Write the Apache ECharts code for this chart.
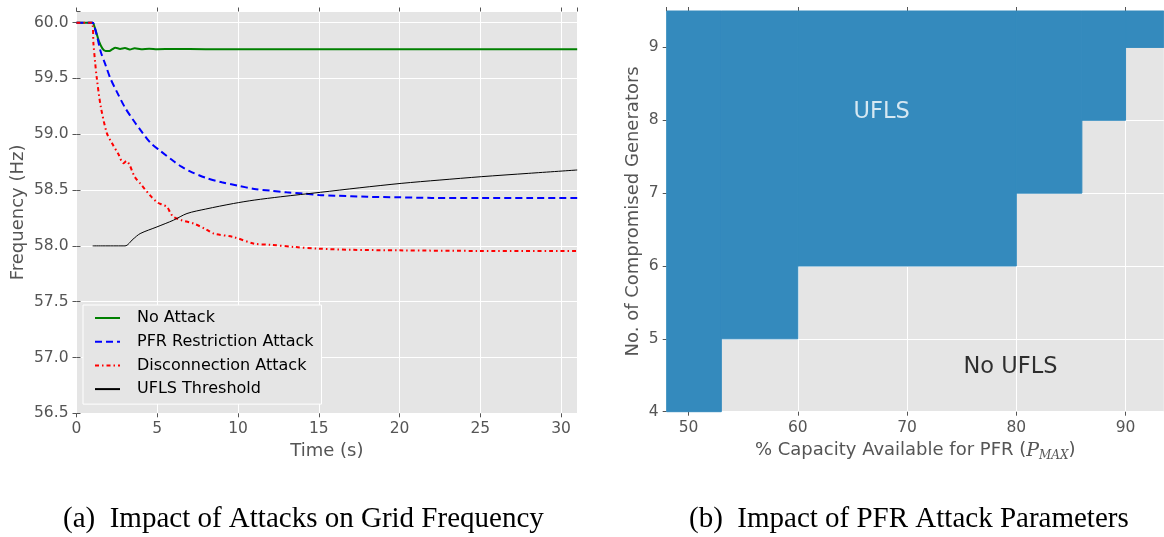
<!DOCTYPE html>
<html><head><meta charset="utf-8">
<script src="https://cdn.jsdelivr.net/npm/echarts@6/dist/echarts.min.js"></script>
<style>html,body{margin:0;padding:0;background:#fff}#c{width:1164px;height:537px}</style>
</head><body><div id="c"></div>
<script>
// ---------- Panel (a): frequency traces ----------
const seriesNames = ['No Attack', 'PFR Restriction Attack', 'Disconnection Attack', 'UFLS Threshold'];

const tNoAttack = [0, 1.0, 1.1, 1.25, 1.4, 1.6, 1.8, 2.0, 2.2, 2.4, 2.7, 3.0, 3.3, 3.6, 4.0, 4.5, 5, 6, 8, 10, 15, 20, 25, 31];
const fNoAttack = [60.0, 60.0, 59.97, 59.90, 59.83, 59.77, 59.745, 59.745, 59.76, 59.775, 59.765, 59.772, 59.76, 59.77, 59.762, 59.766, 59.762, 59.764, 59.762, 59.762, 59.762, 59.762, 59.762, 59.762];

const tPfr = [0, 1.0, 1.1, 1.3, 1.5, 1.8, 2.1, 2.5, 3, 3.5, 4, 4.6, 5.2, 6, 6.5, 7, 8, 9, 10, 11, 12, 13, 14, 15, 16, 18, 20, 22, 25, 28, 31];
const fPfr = [60, 60, 59.97, 59.86, 59.74, 59.62, 59.50, 59.38, 59.24, 59.13, 59.03, 58.92, 58.85, 58.76, 58.71, 58.67, 58.61, 58.57, 58.54, 58.51, 58.495, 58.48, 58.47, 58.455, 58.45, 58.44, 58.435, 58.43, 58.43, 58.43, 58.43];

const tDisc = [0, 0.95, 1.05, 1.15, 1.25, 1.5, 1.88, 2.2, 2.6, 2.9, 3.1, 3.3, 3.6, 4.0, 4.57, 5.0, 5.3, 5.6, 5.8, 6.0, 6.5, 7.25, 8.0, 8.5, 9.7, 11, 12, 13.5, 15, 17, 20, 25, 31];
const fDisc = [60, 60, 59.81, 59.65, 59.51, 59.25, 59.01, 58.92, 58.82, 58.74, 58.76, 58.72, 58.62, 58.55, 58.45, 58.39, 58.37, 58.35, 58.30, 58.26, 58.23, 58.20, 58.15, 58.11, 58.08, 58.02, 58.01, 57.99, 57.975, 57.965, 57.96, 57.955, 57.955];

const tUfls = [1, 3, 3.5, 3.94, 4.98, 6, 6.84, 8, 9.73, 11, 12.64, 15.1, 17.5, 20.1, 22.5, 25.06, 28, 31];
const fUfls = [58.0, 58.0, 58.06, 58.11, 58.17, 58.23, 58.29, 58.33, 58.38, 58.41, 58.44, 58.48, 58.52, 58.56, 58.59, 58.62, 58.65, 58.68];

// ---------- Panel (b): UFLS region ----------
const capEdges = [48, 53, 60, 80, 86, 90, 93.5];   // % capacity band edges
const minGenUFLS = [4, 5, 6, 7, 8, 9];              // lowest no. of generators causing UFLS in each band
const genTop = 9.5;
const annotTexts = ['UFLS', 'No UFLS'];
const annotX = [67.67, 79.47];
const annotY = [8.106, 4.608];

const captions = ['(a)  Impact of Attacks on Grid Frequency', '(b)  Impact of PFR Attack Parameters'];

const zip = (a, b) => a.map((v, i) => [v, b[i]]);
const bands = minGenUFLS.map((g, i) => [capEdges[i], capEdges[i + 1], g]);

const tickFont = {color: '#555', fontSize: 15.5, fontFamily: 'DejaVu Sans'};
const nameFont = {color: '#555', fontSize: 18, fontFamily: 'DejaVu Sans'};
const tickStyle = {show: true, length: 4, inside: false, lineStyle: {color: '#555', width: 1}};
const split = {show: true, lineStyle: {color: '#fff', width: 1}};

const chart = echarts.init(document.getElementById('c'), null, {renderer: 'canvas'});
chart.setOption({
  animation: false,
  backgroundColor: '#fff',
  grid: [
    {left: 76.5, top: 11.5, width: 500.7, height: 401.8, show: true, backgroundColor: '#E5E5E5', borderWidth: 0},
    {left: 666.7, top: 11, width: 497.1, height: 400.7, show: true, backgroundColor: '#E5E5E5', borderWidth: 0}
  ],
  xAxis: [
    {type: 'value', gridIndex: 0, min: 0, max: 31, interval: 5, name: 'Time (s)', nameLocation: 'middle', nameGap: 28,
     nameTextStyle: nameFont, axisLine: {show: false}, axisTick: tickStyle, splitLine: split,
     axisLabel: Object.assign({margin: 8, showMaxLabel: false}, tickFont)},
    {type: 'value', gridIndex: 0, position: 'top', min: 0, max: 31, interval: 5, axisLine: {show: false},
     axisTick: tickStyle, splitLine: {show: false}, axisLabel: {show: false}},
    {type: 'value', gridIndex: 1, min: 48, max: 93.5, splitNumber: 5,
     name: '{n|% Capacity Available for PFR (}{p|P}{s|MAX}{n|)}', nameLocation: 'middle', nameGap: 28,
     nameTextStyle: {rich: {
       n: {color: '#555', fontSize: 18, fontFamily: 'DejaVu Sans'},
       p: {color: '#555', fontSize: 19, fontFamily: 'DejaVu Serif', fontStyle: 'italic'},
       s: {color: '#555', fontSize: 12, fontFamily: 'DejaVu Serif', fontStyle: 'italic', verticalAlign: 'bottom', padding: [10, 0, 0, 0]}
     }},
     axisLine: {show: false}, axisTick: tickStyle, splitLine: split,
     axisLabel: Object.assign({margin: 8, showMinLabel: false, showMaxLabel: false}, tickFont)},
    {type: 'value', gridIndex: 1, position: 'top', min: 48, max: 93.5, splitNumber: 5, axisLine: {show: false},
     axisTick: tickStyle, splitLine: {show: false}, axisLabel: {show: false}}
  ],
  yAxis: [
    {type: 'value', gridIndex: 0, min: 56.5, max: 60.1, interval: 0.5, name: 'Frequency (Hz)', nameLocation: 'middle', nameGap: 49,
     nameTextStyle: nameFont, axisLine: {show: false}, axisTick: tickStyle, splitLine: split,
     axisLabel: Object.assign({margin: 8, showMaxLabel: false, formatter: v => v.toFixed(1)}, tickFont)},
    {type: 'value', gridIndex: 0, position: 'right', min: 56.5, max: 60.1, interval: 0.5, axisLine: {show: false},
     axisTick: tickStyle, splitLine: {show: false}, axisLabel: {show: false}},
    {type: 'value', gridIndex: 1, min: 4, max: genTop, interval: 1, name: 'No. of Compromised Generators', nameLocation: 'middle', nameGap: 24,
     nameTextStyle: nameFont, axisLine: {show: false}, axisTick: tickStyle, splitLine: split,
     axisLabel: Object.assign({margin: 8, showMaxLabel: false}, tickFont)}
  ],
  legend: {
    data: seriesNames, orient: 'vertical', left: 83, top: 305, padding: [5, 8, 7, 11],
    backgroundColor: '#E5E5E5', borderColor: '#fff', borderWidth: 1, borderRadius: 0,
    itemWidth: 25, itemHeight: 16, itemGap: 7.7,
    itemStyle: {opacity: 0, borderWidth: 0},
    textStyle: {color: '#000', fontSize: 16, fontFamily: 'DejaVu Sans', lineHeight: 16, padding: [0, 0, 0, 12]}
  },
  series: [
    {name: seriesNames[0], type: 'line', xAxisIndex: 0, yAxisIndex: 0, data: zip(tNoAttack, fNoAttack), symbol: 'none', smooth: 0.3,
     lineStyle: {color: '#008000', width: 2}, itemStyle: {color: '#008000'}},
    {name: seriesNames[1], type: 'line', xAxisIndex: 0, yAxisIndex: 0, data: zip(tPfr, fPfr), symbol: 'none', smooth: 0.3,
     lineStyle: {color: '#0000FF', width: 2, type: [7, 4]}, itemStyle: {color: '#0000FF'}},
    {name: seriesNames[2], type: 'line', xAxisIndex: 0, yAxisIndex: 0, data: zip(tDisc, fDisc), symbol: 'none', smooth: 0.3,
     lineStyle: {color: '#FF0000', width: 2, type: [4, 3, 1.5, 3]}, itemStyle: {color: '#FF0000'}},
    {name: seriesNames[3], type: 'line', xAxisIndex: 0, yAxisIndex: 0, data: zip(tUfls, fUfls), symbol: 'none', smooth: 0.3,
     lineStyle: {color: '#000', width: 1}, itemStyle: {color: '#000'}},
    {type: 'custom', xAxisIndex: 2, yAxisIndex: 2, data: bands, encode: {x: [0, 1], y: 2},
     renderItem: (params, api) => {
       const p0 = api.coord([api.value(0), genTop]);
       const p1 = api.coord([api.value(1), api.value(2)]);
       return {type: 'rect', shape: {x: p0[0], y: p0[1], width: p1[0] - p0[0], height: p1[1] - p0[1]},
               style: {fill: '#348ABD', stroke: '#348ABD', lineWidth: 1}};
     }},
    {type: 'scatter', xAxisIndex: 2, yAxisIndex: 2, symbolSize: 0, silent: true,
     data: annotTexts.map((t, i) => ({value: [annotX[i], annotY[i]], name: t,
       label: {color: i === 0 ? '#fff' : '#000'}})),
     label: {show: true, position: 'inside', formatter: p => p.name, fontSize: 22.5, fontFamily: 'DejaVu Sans'}}
  ],
  graphic: [
    {type: 'text', left: 306 - 243, top: 505, style: {text: captions[0], font: '29px "Liberation Serif"', fill: '#000'}},
    {type: 'text', left: 689, top: 505, style: {text: captions[1], font: '29px "Liberation Serif"', fill: '#000'}}
  ]
});
</script></body></html>
